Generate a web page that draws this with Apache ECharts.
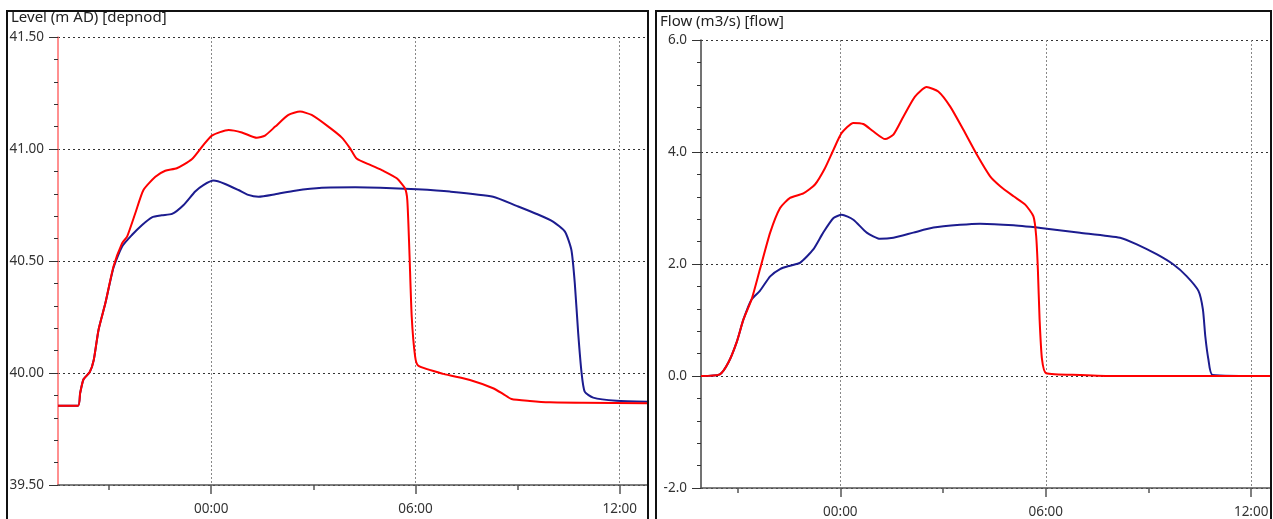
<!DOCTYPE html>
<html>
<head>
    <meta charset="utf-8">
    <script src="https://cdn.jsdelivr.net/npm/echarts@6/dist/echarts.min.js"></script>
    <style>
        html, body { margin: 0; padding: 0; background: #fff; }
        #main { width: 1273px; height: 519px; }
    </style>
</head>
<body>
    <div id="main"></div>
    <script type="text/javascript">
        // hours relative to 00:00
        var levelRedHours = [-4.5, -3.91, -3.85, -3.75, -3.57, -3.45, -3.31, -3.11, -2.87, -2.62, -2.47, -2.23, -1.99, -1.64, -1.35, -1.01, -0.57, -0.27, 0.02, 0.51, 0.90, 1.34, 1.58, 1.88, 2.27, 2.61, 2.95, 3.44, 3.83, 4.08, 4.27, 4.67, 5.06, 5.45, 5.69, 5.76, 5.82, 5.89, 5.99, 6.08, 6.82, 7.60, 8.28, 8.58, 8.82, 9.36, 9.95, 10.92, 12.83];
        var levelRed = [39.854, 39.854, 39.91, 39.972, 40.003, 40.058, 40.192, 40.311, 40.475, 40.579, 40.609, 40.713, 40.817, 40.876, 40.903, 40.914, 40.954, 41.01, 41.06, 41.085, 41.074, 41.05, 41.06, 41.10, 41.152, 41.167, 41.152, 41.10, 41.052, 41.003, 40.958, 40.929, 40.902, 40.869, 40.825, 40.772, 40.549, 40.251, 40.073, 40.033, 39.996, 39.969, 39.932, 39.906, 39.884, 39.875, 39.869, 39.867, 39.865];

        var levelBlueHours = [-4.5, -3.91, -3.85, -3.75, -3.57, -3.45, -3.31, -3.11, -2.87, -2.62, -2.33, -2.03, -1.74, -1.45, -1.15, -0.81, -0.47, -0.23, 0.07, 0.41, 0.80, 1.09, 1.39, 1.88, 2.46, 3.25, 4.23, 4.96, 6.04, 7.01, 8.28, 8.97, 9.56, 10.04, 10.39, 10.58, 10.68, 10.78, 10.88, 10.97, 11.22, 11.90, 12.83];
        var levelBlue = [39.854, 39.854, 39.91, 39.972, 40.003, 40.058, 40.192, 40.311, 40.47, 40.564, 40.616, 40.661, 40.695, 40.704, 40.710, 40.75, 40.81, 40.839, 40.859, 40.844, 40.817, 40.795, 40.787, 40.798, 40.814, 40.827, 40.829, 40.827, 40.82, 40.81, 40.787, 40.746, 40.71, 40.676, 40.631, 40.549, 40.40, 40.177, 39.999, 39.917, 39.89, 39.876, 39.872];

        var flowRedHours = [-4.07, -3.52, -3.27, -3.03, -2.83, -2.59, -2.35, -2.05, -1.76, -1.47, -1.08, -0.74, -0.45, -0.20, 0.04, 0.38, 0.67, 0.96, 1.31, 1.55, 1.84, 2.18, 2.52, 2.86, 3.21, 3.59, 3.99, 4.37, 4.67, 5.06, 5.40, 5.64, 5.72, 5.77, 5.82, 5.89, 6.01, 7.00, 7.97, 12.55];
        var flowRed = [0, 0.03, 0.24, 0.60, 1.01, 1.37, 1.90, 2.56, 3.00, 3.18, 3.26, 3.42, 3.71, 4.04, 4.34, 4.52, 4.50, 4.37, 4.23, 4.31, 4.63, 4.99, 5.16, 5.08, 4.81, 4.40, 3.95, 3.57, 3.39, 3.21, 3.06, 2.85, 2.50, 1.90, 1.01, 0.30, 0.05, 0.02, 0, 0];

        var flowBlueHours = [-4.07, -3.52, -3.27, -3.03, -2.83, -2.59, -2.35, -2.05, -1.76, -1.47, -1.18, -0.79, -0.50, -0.20, 0.04, 0.38, 0.77, 1.16, 1.55, 2.13, 2.72, 3.50, 4.08, 5.06, 6.03, 7.00, 8.17, 8.66, 9.25, 9.73, 10.12, 10.46, 10.59, 10.66, 10.75, 10.87, 12.55];
        var flowBlue = [0, 0.03, 0.24, 0.60, 1.01, 1.37, 1.52, 1.78, 1.91, 1.97, 2.02, 2.26, 2.56, 2.82, 2.88, 2.79, 2.56, 2.45, 2.47, 2.56, 2.65, 2.70, 2.72, 2.69, 2.63, 2.56, 2.47, 2.35, 2.17, 1.99, 1.78, 1.52, 1.19, 0.71, 0.30, 0.02, 0];

        var timeLabelHours = [0, 6, 12];
        var timeMinorHours = [-3, 3, 9];

        var RED = '#ff0000';
        var BLUE = '#1c1c8f';
        var FONT = 'Noto Sans';

        function zip(xs, ys) {
            var out = [];
            for (var i = 0; i < xs.length; i++) out.push([xs[i], ys[i]]);
            return out;
        }

        function hourLabel(v) {
            var h = ((Math.round(v) % 24) + 24) % 24;
            return (h < 10 ? '0' : '') + h + ':00';
        }

        function timeAxes(gridIndex, min, max) {
            return [{
                type: 'value', gridIndex: gridIndex, position: 'bottom', min: min, max: max,
                axisLine: { show: true, onZero: false, lineStyle: { color: '#555', width: 1.5 } },
                axisTick: { show: true, customValues: timeLabelHours, length: 9, lineStyle: { color: '#555', width: 1.5 } },
                axisLabel: { customValues: timeLabelHours, formatter: hourLabel, margin: 17, color: '#333', fontSize: 13.5, fontFamily: FONT },
                splitLine: { show: true, lineStyle: { color: '#888', type: [2, 2], width: 1 } }
            }, {
                type: 'value', gridIndex: gridIndex, position: 'bottom', min: min, max: max,
                axisLine: { show: false, onZero: false },
                axisTick: { show: true, customValues: timeMinorHours, length: 5, lineStyle: { color: '#555', width: 1.5 } },
                axisLabel: { show: false },
                splitLine: { show: false }
            }];
        }

        function valueAxis(gridIndex, min, max, interval, digits, lineColor) {
            return {
                type: 'value', gridIndex: gridIndex, min: min, max: max, interval: interval,
                axisLine: { show: true, onZero: false, lineStyle: { color: lineColor, width: 1.5 } },
                axisTick: { show: true, length: 9, lineStyle: { color: '#333' } },
                minorTick: { show: true, splitNumber: 5, length: 4, lineStyle: { color: '#333' } },
                axisLabel: { formatter: function (v) { return v.toFixed(digits); }, margin: 14, color: '#333', fontSize: 13.5, fontFamily: FONT },
                splitLine: { show: true, lineStyle: { color: '#333', type: [2, 3], width: 1 } }
            };
        }

        function line(xi, yi, data, color) {
            return {
                type: 'line', xAxisIndex: xi, yAxisIndex: yi, data: data,
                showSymbol: false, smooth: 0.2,
                lineStyle: { color: color, width: 2 }, silent: true, animation: false
            };
        }

        var myChart = echarts.init(document.getElementById('main'));

        var option = {
            animation: false,
            title: [{
                text: 'Level (m AD) [depnod]', left: 11, top: 10, padding: 0,
                textStyle: { fontSize: 15, fontWeight: 'normal', color: '#222', fontFamily: FONT }
            }, {
                text: 'Flow (m3/s) [flow]', left: 660, top: 14, padding: 0,
                textStyle: { fontSize: 15, fontWeight: 'normal', color: '#222', fontFamily: FONT }
            }],
            grid: [
                { left: 58, top: 37, width: 590, height: 448 },
                { left: 701, top: 40, width: 569, height: 449 }
            ],
            xAxis: timeAxes(0, -4.5, 12.83).concat(timeAxes(1, -4.07, 12.55)),
            yAxis: [
                valueAxis(0, 39.5, 41.5, 0.5, 2, '#ff6b6b'),
                valueAxis(1, -2, 6, 2, 1, '#444')
            ],
            series: [
                line(0, 0, zip(levelBlueHours, levelBlue), BLUE),
                line(0, 0, zip(levelRedHours, levelRed), RED),
                line(2, 1, zip(flowBlueHours, flowBlue), BLUE),
                line(2, 1, zip(flowRedHours, flowRed), RED)
            ],
            graphic: [{
                type: 'rect', silent: true, z: 100,
                shape: { x: 7, y: 11, width: 641, height: 530 },
                style: { fill: null, stroke: '#111', lineWidth: 2 }
            }, {
                type: 'rect', silent: true, z: 100,
                shape: { x: 656, y: 11, width: 615, height: 530 },
                style: { fill: null, stroke: '#111', lineWidth: 2 }
            }]
        };
        myChart.setOption(option);
    </script>
</body>
</html>
